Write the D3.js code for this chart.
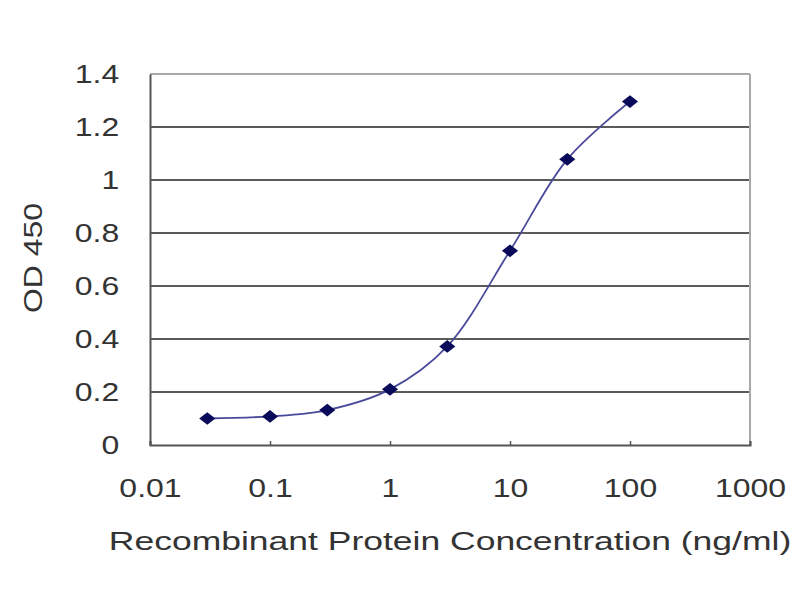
<!DOCTYPE html>
<html>
<head>
<meta charset="utf-8">
<script src="https://cdn.jsdelivr.net/npm/d3@7"></script>
<style>
  body { margin: 0; background: #fff; }
  text { font-family: "Liberation Sans", Arial, sans-serif; fill: #333; }
</style>
</head>
<body>
<div id="chart"></div>
<script>
// concentration (ng/ml) and OD 450 readings
var concentrations = [0.03, 0.1, 0.3, 1, 3, 10, 30, 100];
var odValues = [0.10, 0.108, 0.132, 0.21, 0.372, 0.733, 1.078, 1.296];
var xTicks = [0.01, 0.1, 1, 10, 100, 1000];
var yTicks = [0, 0.2, 0.4, 0.6, 0.8, 1, 1.2, 1.4];

var width = 800, height = 600;
var plotLeft = 150, plotRight = 750, plotTop = 74, plotBottom = 445;
var stretch = 1.28; // the text in the picture is wide

var svg = d3.select("#chart")
  .append("svg")
    .attr("width", width)
    .attr("height", height);

var x = d3.scaleLog()
  .domain([0.01, 1000])
  .range([plotLeft, plotRight]);

var y = d3.scaleLinear()
  .domain([0, 1.4])
  .range([plotBottom, plotTop]);

// gridlines
svg.append("g")
  .selectAll("line")
  .data(yTicks.filter(function(d) { return d > 0; }))
  .enter()
  .append("line")
    .attr("x1", plotLeft)
    .attr("x2", plotRight)
    .attr("y1", function(d) { return y(d); })
    .attr("y2", function(d) { return y(d); })
    .attr("stroke", function(d) { return d == 1.4 ? "#a8a8a8" : "#5a5a5a"; })
    .attr("stroke-width", 2);

// right border
svg.append("line")
  .attr("x1", plotRight).attr("x2", plotRight)
  .attr("y1", plotTop).attr("y2", plotBottom)
  .attr("stroke", "#a8a8a8")
  .attr("stroke-width", 2);

// axes
var yAxis = svg.append("g")
  .attr("transform", "translate(" + plotLeft + ",0)")
  .call(d3.axisLeft(y).tickValues(yTicks).tickSize(0).tickPadding(24).tickFormat(d3.format("")));

var xAxis = svg.append("g")
  .attr("transform", "translate(0," + plotBottom + ")")
  .call(d3.axisBottom(x).tickValues(xTicks).tickSize(-4).tickPadding(34).tickFormat(function(d) { return d; }));

[yAxis, xAxis].forEach(function(a) {
  a.select(".domain").attr("stroke", "#555").attr("stroke-width", 2);
  a.selectAll(".tick line").attr("stroke", "#555").attr("stroke-width", 1.5);
  a.selectAll("text")
    .style("font-size", "25px")
    .style("font-family", "Liberation Sans, Arial, sans-serif")
    .attr("fill", "#333")
    .attr("transform", "scale(" + stretch + ",1)");
});

// curve
var line = d3.line()
  .x(function(d, i) { return x(concentrations[i]); })
  .y(function(d) { return y(d); })
  .curve(d3.curveCatmullRom.alpha(0.5));

svg.append("path")
  .datum(odValues)
  .attr("d", line)
  .attr("fill", "none")
  .attr("stroke", "#4a4a9a")
  .attr("stroke-width", 1.8);

// markers: wide diamonds
svg.append("g")
  .selectAll("path")
  .data(odValues)
  .enter()
  .append("path")
    .attr("d", d3.symbol().type(d3.symbolSquare).size(90))
    .attr("transform", function(d, i) {
      return "translate(" + x(concentrations[i]) + "," + y(d) + ") scale(1.2,0.95) rotate(45)";
    })
    .attr("fill", "#0a0a5a");

// labels
svg.append("text")
  .attr("transform", "translate(450,550) scale(1.42,1)")
  .attr("text-anchor", "middle")
  .style("font-size", "25px")
  .text("Recombinant Protein Concentration (ng/ml)");

svg.append("text")
  .attr("transform", "translate(42,258) rotate(-90) scale(" + stretch + ",1)")
  .attr("text-anchor", "middle")
  .style("font-size", "25px")
  .text("OD 450");
</script>
</body>
</html>
